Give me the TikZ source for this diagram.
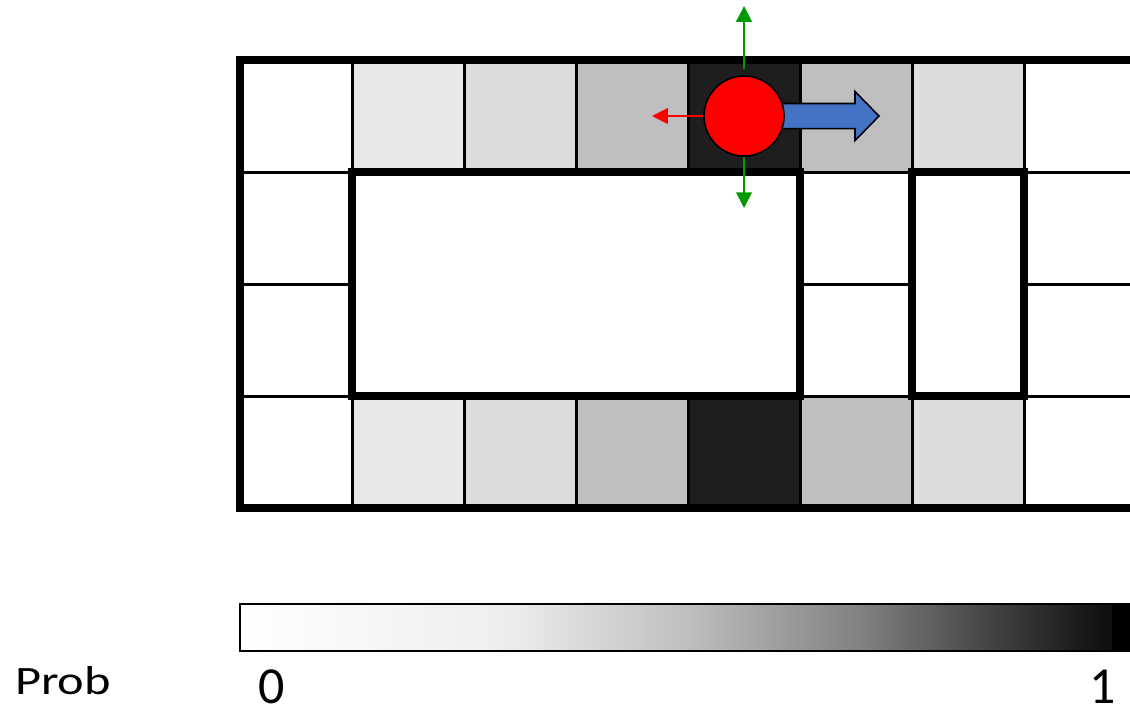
\documentclass[tikz,border=0pt]{standalone}
\usepackage{fontspec}
\setmainfont{Carlito}
\usetikzlibrary{arrows.meta,calc}
\definecolor{gwlight}{HTML}{E8E8E8}
\definecolor{gwpale}{HTML}{DCDCDC}
\definecolor{gwgray}{HTML}{BFBFBF}
\definecolor{gwdark}{HTML}{1E1E1E}
\definecolor{gwrobot}{HTML}{FF0000}
\definecolor{gwgo}{HTML}{4472C4}
\definecolor{gwside}{HTML}{009900}
\pgfdeclarehorizontalshading{probbar}{100bp}{color(0bp)=(white); color(25bp)=(white);
  color(40bp)=(black!7); color(50bp)=(black!25); color(60bp)=(black!50);
  color(67.5bp)=(black!75); color(73.5bp)=(black!94); color(100bp)=(black!94)}

\begin{document}
\begin{tikzpicture}[>=Stealth,line join=miter,
  font=\fontsize{13.2pt}{15pt}\selectfont,
  cell/.style={draw=black,line width=.75pt},
  wall/.style={draw=black,line width=2pt},
  robot/.style={circle,fill=gwrobot,draw=black,line width=.4pt,minimum size=.714cm,inner sep=0pt},
  move/.style={-{Triangle[length=4pt,width=4pt]},line width=.45pt},
  barlabel/.style={anchor=base,inner sep=0pt}]
\path[use as bounding box] (-2.143,-1.804) rectangle (7.946,4.536);
\clip (-2.143,-1.804) rectangle (7.946,4.536);

% top and bottom corridors, shaded by probability
\foreach \x/\c in {0/white,1/gwlight,2/gwpale,3/gwgray,4/gwdark,5/gwgray,6/gwpale,7/white} {
  \draw[cell,fill=\c] (\x,0) rectangle ++(1,1);
  \draw[cell,fill=\c] (\x,3) rectangle ++(1,1);
}
% vertical passages
\foreach \x in {0,5,7}
  \foreach \y in {1,2}
    \draw[cell] (\x,\y) rectangle ++(1,1);

% obstacles and outer wall
\draw[wall,fill=white] (1,1) rectangle (5,3);
\draw[wall,fill=white] (6,1) rectangle (7,3);
\draw[wall] (8.5,4) -- (0,4) -- (0,0) -- (8.5,0);

% robot with its heading and side moves
\coordinate (pos) at (4.5,3.5);
\draw[fill=gwgo,line width=.4pt,shift={(pos)}]
  (0,.112) -- (.991,.112) -- (.991,.219) -- (1.205,0)
  -- (.991,-.219) -- (.991,-.112) -- (0,-.112) -- cycle;
\node[robot] (robot) at (pos) {};
\coordinate (nup) at (4.5,4.482);
\coordinate (ndown) at (4.5,2.679);
\coordinate (nback) at (3.679,3.5);
\draw[move,gwside,shorten <=1.5pt] (robot.north) -- (nup);
\draw[move,gwside] (robot.south) -- (ndown);
\draw[move,gwrobot] (robot.west) -- (nback);

% colour bar
\path[shading=probbar] (0,-1.277) rectangle (7.96,-.857);
\fill[black] (7.786,-1.277) rectangle (7.96,-.857);
\draw[line width=.5pt] (7.96,-1.277) -- (0,-1.277) -- (0,-.857) -- (7.96,-.857);
\node[barlabel] (pmin) at (.286,-1.741) {0};
\node[barlabel] (pmax) at (7.705,-1.741) {1};
\node[barlabel,font=\fontsize{12.8pt}{15pt}\selectfont] (ptitle) at (-1.58,-1.661) {\scalebox{1}[.8]{Prob}};
\end{tikzpicture}
\end{document}
